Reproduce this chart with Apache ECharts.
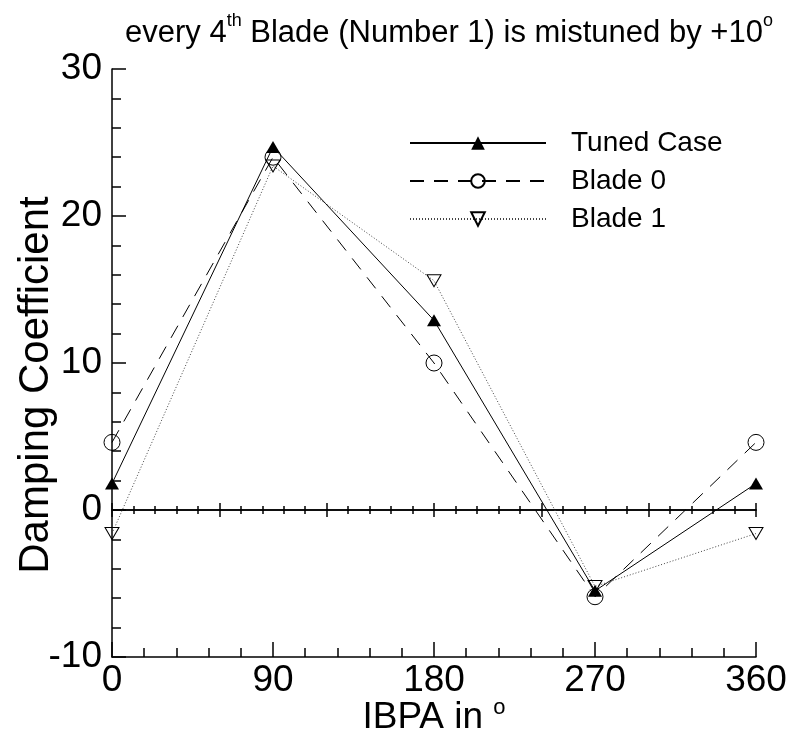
<!DOCTYPE html>
<html>
<head>
<meta charset="utf-8">
<script src="https://cdn.jsdelivr.net/npm/echarts@6/dist/echarts.min.js"></script>
<style>
  html, body { margin: 0; padding: 0; background: #fff; }
  #chart { width: 796px; height: 738px; }
</style>
</head>
<body>
<div id="chart"></div>
<script>
const FONT = '"Liberation Sans", Arial, Helvetica, sans-serif'

// IBPA in degrees
const ibpa = [0, 90, 180, 270, 360]
const tunedCase = [1.8, 24.7, 12.9, -5.5, 1.8]
const blade0 = [4.6, 24.0, 10.0, -5.9, 4.6]
const blade1 = [-1.6, 23.4, 15.6, -5.2, -1.6]

const pairs = (ys) => ibpa.map((x, i) => [x, ys[i]])

const chart = echarts.init(document.getElementById('chart'))

const baseX = {
  type: 'value',
  min: 0,
  max: 360,
  splitLine: { show: false }
}

const option = {
  backgroundColor: '#fff',
  animation: false,
  textStyle: { fontFamily: FONT, color: '#000' },
  title: {
    left: 120,
    top: 7,
    text: 'every 4{sup|th} Blade (Number 1) is mistuned by +10{sup|o}',
    textStyle: {
      fontFamily: FONT,
      fontWeight: 'normal',
      fontSize: 31,
      color: '#000',
      lineHeight: 42,
      rich: {
        sup: { fontFamily: FONT, fontSize: 18, color: '#000', verticalAlign: 'top', lineHeight: 22 }
      }
    }
  },
  legend: {
    orient: 'vertical',
    left: 409,
    top: 129,
    itemWidth: 136,
    itemHeight: 17,
    itemGap: 10,
    padding: 0,
    textStyle: { fontFamily: FONT, fontSize: 28, lineHeight: 27, color: '#000', padding: [0, 0, 0, 20] },
    data: ['Tuned Case', 'Blade 0', 'Blade 1']
  },
  grid: { left: 112, right: 40, top: 69, bottom: 81, containLabel: false },
  xAxis: [
    {
      ...baseX,
      interval: 90,
      position: 'bottom',
      axisLine: { onZero: false, lineStyle: { color: '#000', width: 1.5 } },
      axisTick: { inside: true, length: 15, lineStyle: { color: '#000', width: 1.5 } },
      minorTick: { show: true, splitNumber: 5, length: 9, lineStyle: { color: '#000', width: 1.5 } },
      axisLabel: { fontFamily: FONT, fontSize: 37, color: '#000', margin: 5 }
    },
    {
      ...baseX,
      interval: 60,
      position: 'bottom',
      axisLine: { onZero: true, onZeroAxisIndex: 0, lineStyle: { color: '#000', width: 1.5 } },
      axisTick: { inside: true, length: 7, lineStyle: { color: '#000', width: 1.5 } },
      minorTick: { show: true, splitNumber: 5, length: 4, lineStyle: { color: '#000', width: 1.5 } },
      axisLabel: { show: false }
    },
    {
      ...baseX,
      interval: 60,
      position: 'bottom',
      axisLine: { onZero: true, onZeroAxisIndex: 0, lineStyle: { color: '#000', width: 1.5 } },
      axisTick: { inside: false, length: 7, lineStyle: { color: '#000', width: 1.5 } },
      minorTick: { show: true, splitNumber: 5, length: 4, lineStyle: { color: '#000', width: 1.5 } },
      axisLabel: { show: false }
    }
  ],
  yAxis: {
    type: 'value',
    min: -10,
    max: 30,
    interval: 10,
    axisLine: { onZero: false, lineStyle: { color: '#000', width: 1.5 } },
    axisTick: { inside: true, length: 14, lineStyle: { color: '#000', width: 1.5 } },
    minorTick: { show: true, splitNumber: 5, length: 9, lineStyle: { color: '#000', width: 1.5 } },
    splitLine: { show: false },
    axisLabel: { fontFamily: FONT, fontSize: 37, color: '#000', margin: 10 }
  },
  graphic: [
    {
      type: 'text',
      x: 36,
      y: 385,
      rotation: Math.PI / 2,
      style: {
        text: 'Damping Coefficient',
        font: '42px ' + FONT,
        fill: '#000',
        align: 'center',
        verticalAlign: 'middle'
      }
    },
    {
      type: 'text',
      x: 434,
      y: 718,
      style: {
        text: '{n|IBPA in }{s|o}',
        fill: '#000',
        align: 'center',
        verticalAlign: 'middle',
        rich: {
          n: { fontFamily: FONT, fontSize: 37, lineHeight: 42 },
          s: { fontFamily: FONT, fontSize: 22, lineHeight: 22, verticalAlign: 'top' }
        }
      }
    }
  ],
  series: [
    {
      name: 'Tuned Case',
      type: 'line',
      clip: false,
      data: pairs(tunedCase),
      symbol: 'triangle',
      symbolSize: [14, 12],
      lineStyle: { color: '#000', width: 1, type: 'solid' },
      itemStyle: { color: '#000' }
    },
    {
      name: 'Blade 0',
      type: 'line',
      clip: false,
      data: pairs(blade0),
      symbol: 'circle',
      symbolSize: 16,
      lineStyle: { color: '#000', width: 1, type: [14, 10] },
      itemStyle: { color: 'rgba(0,0,0,0)', borderColor: '#000', borderWidth: 1 }
    },
    {
      name: 'Blade 1',
      type: 'line',
      clip: false,
      data: pairs(blade1),
      symbol: 'path://M0,0L14,0L7,12Z',
      symbolSize: [14, 12],
      lineStyle: { color: '#444', width: 1, type: [1, 2] },
      itemStyle: { color: 'rgba(0,0,0,0)', borderColor: '#000', borderWidth: 1 }
    }
  ]
}

chart.setOption(option)
window.addEventListener('resize', () => chart.resize())
</script>
</body>
</html>
